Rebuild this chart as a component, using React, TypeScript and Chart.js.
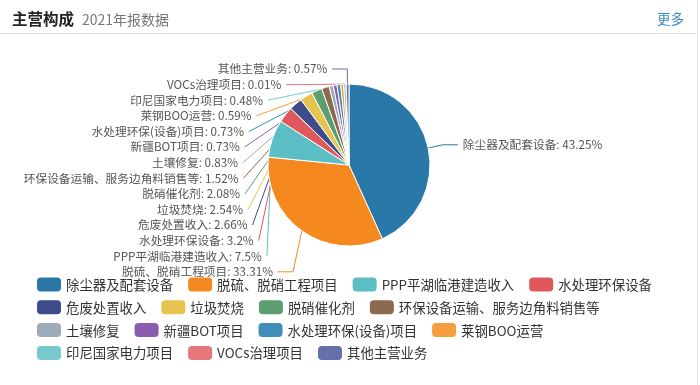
import React, { useEffect, useRef } from 'react';
import { Chart, registerables } from 'chart.js';

Chart.register(...registerables);

const categories = [
  '除尘器及配套设备',
  '脱硫、脱硝工程项目',
  'PPP平湖临港建造收入',
  '水处理环保设备',
  '危废处置收入',
  '垃圾焚烧',
  '脱硝催化剂',
  '环保设备运输、服务边角料销售等',
  '土壤修复',
  '新疆BOT项目',
  '水处理环保(设备)项目',
  '莱钢BOO运营',
  '印尼国家电力项目',
  'VOCs治理项目',
  '其他主营业务',
];
const shares = [43.25, 33.31, 7.5, 3.2, 2.66, 2.54, 2.08, 1.52, 0.83, 0.73, 0.73, 0.59, 0.48, 0.01, 0.57];
const sliceColors = [
  '#2a78a8', '#f5891f', '#5bbec4', '#e0575c', '#3e4c8c',
  '#e7c34f', '#5b9e6f', '#8c6a4d', '#9eabb9', '#8a5cb0',
  '#3f8db8', '#f59e3e', '#78c9cf', '#e5767a', '#6670a8',
];
const titleText = '主营构成';
const subtitleText = '2021年报数据';
const moreText = '更多';

const FONT = '"Noto Sans CJK SC", "Microsoft YaHei", sans-serif';

type Pt = [number, number];

function projectPointToLine(x1: number, y1: number, x2: number, y2: number, x: number, y: number, out: number[]) {
  const dx = x - x1, dy = y - y1;
  let dx1 = x2 - x1, dy1 = y2 - y1;
  const l = Math.sqrt(dx1 * dx1 + dy1 * dy1);
  dx1 /= l; dy1 /= l;
  const p = dx * dx1 + dy * dy1;
  const ox = x1 + dx1 * p, oy = y1 + dy1 * p;
  out[0] = ox; out[1] = oy;
  return Math.sqrt((ox - x) * (ox - x) + (oy - y) * (oy - y));
}

function limitTurnAngle(pts: Pt[], minDeg: number) {
  const min = (minDeg / 180) * Math.PI;
  const [p0, p1, p2] = pts;
  let a = [p0[0] - p1[0], p0[1] - p1[1]];
  let b = [p2[0] - p1[0], p2[1] - p1[1]];
  const la = Math.hypot(a[0], a[1]), lb = Math.hypot(b[0], b[1]);
  if (la < 1e-3 || lb < 1e-3) return;
  a = [a[0] / la, a[1] / la]; b = [b[0] / lb, b[1] / lb];
  const c = a[0] * b[0] + a[1] * b[1];
  if (Math.cos(min) < c) {
    const out = [0, 0];
    const d = projectPointToLine(p1[0], p1[1], p2[0], p2[1], p0[0], p0[1], out);
    const s = d / Math.tan(Math.PI - min);
    let px = out[0] + b[0] * s, py = out[1] + b[1] * s;
    const t = p2[0] !== p1[0] ? (px - p1[0]) / (p2[0] - p1[0]) : (py - p1[1]) / (p2[1] - p1[1]);
    if (isNaN(t)) return;
    if (t < 0) { px = p1[0]; py = p1[1]; } else if (t > 1) { px = p2[0]; py = p2[1]; }
    pts[1] = [px, py];
  }
}

function limitSurfaceAngle(pts: Pt[], normal: number[], maxDeg: number) {
  const max = (maxDeg / 180) * Math.PI;
  const [p0, p1, p2] = pts;
  let a = [p1[0] - p0[0], p1[1] - p0[1]];
  let b = [p2[0] - p1[0], p2[1] - p1[1]];
  const la = Math.hypot(a[0], a[1]), lb = Math.hypot(b[0], b[1]);
  if (la < 1e-3 || lb < 1e-3) return;
  a = [a[0] / la, a[1] / la]; b = [b[0] / lb, b[1] / lb];
  const c = a[0] * normal[0] + a[1] * normal[1];
  if (c < Math.cos(max)) {
    const out = [0, 0];
    const d = projectPointToLine(p1[0], p1[1], p2[0], p2[1], p0[0], p0[1], out);
    const angle2 = Math.acos(Math.max(-1, Math.min(1, b[0] * normal[0] + b[1] * normal[1])));
    const newAngle = Math.PI / 2 + angle2 - max;
    let px: number, py: number;
    if (newAngle >= Math.PI / 2) {
      px = p2[0]; py = p2[1];
    } else {
      const s = d / Math.tan(Math.PI / 2 - newAngle);
      px = out[0] + b[0] * s; py = out[1] + b[1] * s;
      const t = p2[0] !== p1[0] ? (px - p1[0]) / (p2[0] - p1[0]) : (py - p1[1]) / (p2[1] - p1[1]);
      if (isNaN(t)) return;
      if (t < 0) { px = p1[0]; py = p1[1]; } else if (t > 1) { px = p2[0]; py = p2[1]; }
    }
    pts[1] = [px, py];
  }
}

const LEN = 15;
const LEN2 = 15;
const GAP = 5;
const LABEL_H = 15.6;

function computeLabels(chart: any) {
  const meta = chart.getDatasetMeta(0);
  const labels = chart.data.labels as string[];
  const values = chart.data.datasets[0].data as number[];
  const colors = chart.data.datasets[0].backgroundColor as string[];
  const items: any[] = [];
  let cx = 0, cy = 0, r = 0;
  meta.data.forEach((arc: any, i: number) => {
    cx = arc.x; cy = arc.y; r = arc.outerRadius;
    const mid = (arc.startAngle + arc.endAngle) / 2;
    const dx = Math.cos(mid), dy = Math.sin(mid);
    const x1 = cx + r * dx, y1 = cy + r * dy;
    const x2 = cx + (r + LEN) * dx, y2 = cy + (r + LEN) * dy;
    const dir = dx < 0 ? -1 : 1;
    const x3 = x2 + dir * LEN2;
    items.push({
      dir, normal: [dx, dy], x1, y1, x2, y2, x3,
      labelX: x3 + dir * GAP, labelY: y2,
      text: `${labels[i]}: ${values[i]}%`, color: colors[i],
    });
  });
  const sides = [items.filter((it) => it.dir < 0), items.filter((it) => it.dir > 0)];
  sides.forEach((list) => {
    if (list.length < 2) return;
    list.sort((a: any, b: any) => a.labelY - b.labelY);
    let lastPos = 0;
    let adjusted = false;
    list.forEach((it: any) => {
      const top = it.labelY - LABEL_H / 2;
      const delta = top - lastPos;
      if (delta < 0) { it.labelY -= delta; adjusted = true; }
      lastPos = it.labelY - LABEL_H / 2 + LABEL_H;
    });
    if (!adjusted) return;
    const semis = [
      { list: [] as any[], maxY: 0, rB: 0 },
      { list: [] as any[], maxY: 0, rB: 0 },
    ];
    list.forEach((it: any) => {
      const semi = it.labelY > cy ? semis[1] : semis[0];
      semi.list.push(it);
      const dy = Math.abs(it.labelY - cy);
      if (dy >= semi.maxY) {
        const ddx = it.labelX - cx - LEN2 * it.dir;
        const rA = r + LEN;
        semi.rB = Math.abs(ddx) < rA ? Math.sqrt((dy * dy) / (1 - (ddx * ddx) / rA / rA)) : rA;
        semi.maxY = dy;
      }
    });
    semis.forEach((semi) => {
      const rB2 = semi.rB * semi.rB;
      semi.list.forEach((it: any) => {
        const dy = Math.abs(it.labelY - cy);
        const rA = r + LEN;
        const dxE = Math.sqrt((1 - Math.abs((dy * dy) / rB2)) * rA * rA);
        it.labelX = cx + (dxE + LEN2) * it.dir;
      });
    });
  });
  items.forEach((it) => {
    const dist = it.x2 - it.x3;
    const endX = it.labelX - it.dir * GAP;
    const pts: Pt[] = [[it.x1, it.y1], [endX + dist, it.labelY], [endX, it.labelY]];
    limitTurnAngle(pts, 90);
    limitSurfaceAngle(pts, it.normal, 90);
    it.pts = pts;
  });
  return items;
}

const pieLabelPlugin = {
  id: 'pieOuterLabels',
  beforeDatasetsDraw(chart: any) {
    const items = computeLabels(chart);
    chart.$pieLabels = items;
    const ctx = chart.ctx;
    ctx.save();
    ctx.lineWidth = 1;
    items.forEach((it: any) => {
      ctx.strokeStyle = it.color;
      ctx.beginPath();
      ctx.moveTo(it.pts[0][0], it.pts[0][1]);
      ctx.lineTo(it.pts[1][0], it.pts[1][1]);
      ctx.lineTo(it.pts[2][0], it.pts[2][1]);
      ctx.stroke();
    });
    ctx.restore();
  },
  afterDatasetsDraw(chart: any) {
    const items = chart.$pieLabels || [];
    const ctx = chart.ctx;
    ctx.save();
    ctx.font = `11.7px ${FONT}`;
    ctx.fillStyle = '#555';
    ctx.textBaseline = 'middle';
    items.forEach((it: any) => {
      ctx.textAlign = it.dir < 0 ? 'right' : 'left';
      ctx.fillText(it.text, it.labelX, it.labelY);
    });
    ctx.restore();
  },
};

const legendPlugin = {
  id: 'wrappedLegend',
  afterDraw(chart: any) {
    const ctx = chart.ctx;
    const labels = chart.data.labels as string[];
    const colors = chart.data.datasets[0].backgroundColor as string[];
    const left = 37, right = 668, rowY0 = 284.5, rowH = 22.8;
    const boxW = 24, boxH = 14, textGap = 5, itemGap = 15;
    ctx.save();
    ctx.font = `13.4px ${FONT}`;
    ctx.textBaseline = 'middle';
    ctx.textAlign = 'left';
    let x = left, y = rowY0;
    labels.forEach((label, i) => {
      const w = boxW + textGap + ctx.measureText(label).width;
      if (x > left && x + w > right) { x = left; y += rowH; }
      ctx.fillStyle = colors[i];
      ctx.beginPath();
      if (ctx.roundRect) ctx.roundRect(x, y - boxH / 2, boxW, boxH, 4);
      else ctx.rect(x, y - boxH / 2, boxW, boxH);
      ctx.fill();
      ctx.fillStyle = '#333';
      ctx.fillText(label, x + boxW + textGap, y + 0.5);
      x += w + itemGap;
    });
    ctx.restore();
  },
};

export default function App() {
  const canvasRef = useRef<HTMLCanvasElement | null>(null);

  useEffect(() => {
    if (!canvasRef.current) return;
    const chart = new Chart(canvasRef.current, {
      type: 'pie',
      data: {
        labels: categories,
        datasets: [
          {
            data: shares,
            backgroundColor: sliceColors,
            borderColor: '#ffffff',
            borderWidth: 1,
            radius: 81,
          } as any,
        ],
      },
      options: {
        responsive: false,
        animation: false,
        events: [],
        layout: { padding: { left: 268, right: 270, top: 84, bottom: 139 } },
        plugins: {
          legend: { display: false },
          tooltip: { enabled: false },
        },
      },
      plugins: [pieLabelPlugin, legendPlugin],
    });
    return () => chart.destroy();
  }, []);

  return (
    <div style={{ position: 'absolute', left: 0, top: 0, width: 700, height: 385, background: '#fff', overflow: 'hidden', fontFamily: FONT }}>
      <canvas ref={canvasRef} width={700} height={385} style={{ position: 'absolute', left: 0, top: 0, width: 700, height: 385 }} />
      <div style={{ position: 'absolute', left: 12, top: 7, height: 22, lineHeight: '22px', fontSize: 15.5, fontWeight: 700, color: '#222' }}>{titleText}</div>
      <div style={{ position: 'absolute', left: 82, top: 8, height: 22, lineHeight: '22px', fontSize: 14, color: '#777' }}>{subtitleText}</div>
      <div style={{ position: 'absolute', left: 657, top: 7, height: 22, lineHeight: '22px', fontSize: 13.5, color: '#3a8ec2' }}>{moreText}</div>
      <div style={{ position: 'absolute', left: 0, top: 33, width: 697, height: 1, background: '#e2e2e2' }} />
      <div style={{ position: 'absolute', left: 697, top: 0, width: 1, height: 385, background: '#e8e8e8' }} />
    </div>
  );
}
